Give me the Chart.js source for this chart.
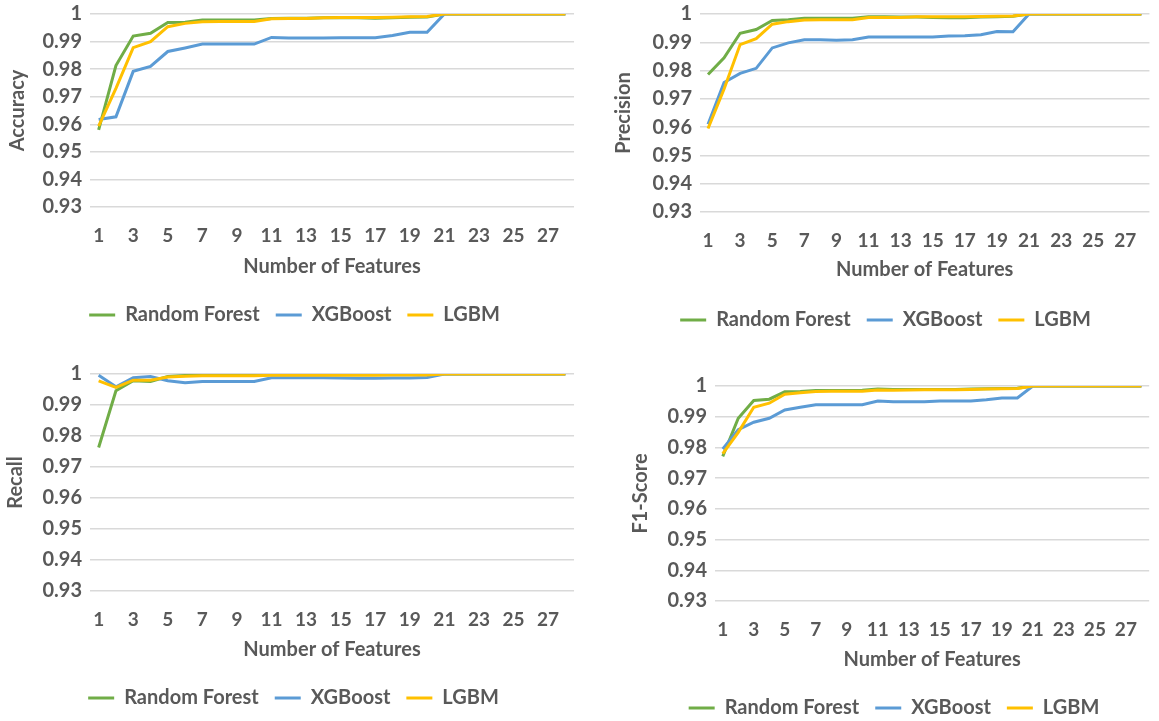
<!DOCTYPE html>
<html>
<head>
<meta charset="utf-8">
<script src="https://cdn.jsdelivr.net/npm/chart.js@4.4.0/dist/chart.umd.min.js"></script>
<style>
  body { margin: 0; background: #fff; width: 1159px; height: 721px; position: relative; overflow: hidden; }
  canvas { position: absolute; }
</style>
</head>
<body>
<canvas id="accChart"></canvas>
<canvas id="preChart"></canvas>
<canvas id="recChart"></canvas>
<canvas id="f1Chart"></canvas>
<script>
var features = [1, 2, 3, 4, 5, 6, 7, 8, 9, 10, 11, 12, 13, 14, 15, 16, 17, 18, 19, 20, 21, 22, 23, 24, 25, 26, 27, 28];
var seriesNames = ['Random Forest', 'XGBoost', 'LGBM'];
var seriesColors = ['#70AD47', '#5B9BD5', '#FFC000'];
var yMin = 0.93, yMax = 1, yStep = 0.01;

// Accuracy
var rfAcc   = [0.958, 0.9813, 0.992, 0.993, 0.9969, 0.997, 0.9978, 0.9978, 0.9978, 0.9978, 0.9984, 0.9985, 0.9985, 0.9986, 0.9987, 0.9986, 0.9985, 0.9986, 0.9988, 0.9989, 1, 1, 1, 1, 1, 1, 1, 1];
var xgbAcc  = [0.9617, 0.9627, 0.9792, 0.981, 0.9864, 0.9877, 0.9891, 0.9891, 0.9891, 0.9891, 0.9915, 0.9913, 0.9913, 0.9913, 0.9914, 0.9914, 0.9914, 0.9922, 0.9934, 0.9934, 1, 1, 1, 1, 1, 1, 1, 1];
var lgbmAcc = [0.9593, 0.973, 0.9878, 0.99, 0.9954, 0.9966, 0.9972, 0.9973, 0.9973, 0.9973, 0.9983, 0.9984, 0.9984, 0.9986, 0.9987, 0.9987, 0.9987, 0.9988, 0.999, 0.9991, 1, 1, 1, 1, 1, 1, 1, 1];

// Precision
var rfPre   = [0.9786, 0.9845, 0.9932, 0.9945, 0.9977, 0.998, 0.9985, 0.9985, 0.9985, 0.9985, 0.999, 0.999, 0.9989, 0.9989, 0.9988, 0.9987, 0.9987, 0.9989, 0.999, 0.9992, 1, 1, 1, 1, 1, 1, 1, 1];
var xgbPre  = [0.961, 0.9758, 0.979, 0.9808, 0.988, 0.9898, 0.9909, 0.9909, 0.9907, 0.9909, 0.9919, 0.9919, 0.9919, 0.9919, 0.9919, 0.9922, 0.9923, 0.9927, 0.9938, 0.9937, 1, 1, 1, 1, 1, 1, 1, 1];
var lgbmPre = [0.9595, 0.9735, 0.9892, 0.9913, 0.9964, 0.9973, 0.9979, 0.998, 0.998, 0.998, 0.9988, 0.9988, 0.9988, 0.999, 0.999, 0.999, 0.999, 0.9991, 0.9992, 0.9993, 1, 1, 1, 1, 1, 1, 1, 1];

// Recall
var rfRec   = [0.9763, 0.9946, 0.9978, 0.9976, 0.9992, 0.9995, 0.9996, 0.9996, 0.9996, 0.9996, 0.9998, 0.9998, 0.9998, 0.9998, 0.9998, 0.9998, 0.9998, 0.9998, 0.9998, 0.9998, 1, 1, 1, 1, 1, 1, 1, 1];
var xgbRec  = [0.9996, 0.9959, 0.9988, 0.9992, 0.9978, 0.9972, 0.9976, 0.9976, 0.9976, 0.9976, 0.9988, 0.9988, 0.9988, 0.9988, 0.9987, 0.9986, 0.9986, 0.9987, 0.9987, 0.9989, 1, 1, 1, 1, 1, 1, 1, 1];
var lgbmRec = [0.9978, 0.9957, 0.998, 0.998, 0.999, 0.9993, 0.9994, 0.9994, 0.9994, 0.9994, 0.9996, 0.9996, 0.9996, 0.9996, 0.9996, 0.9996, 0.9996, 0.9997, 0.9997, 0.9997, 1, 1, 1, 1, 1, 1, 1, 1];

// F1-Score
var rfF1    = [0.9771, 0.9895, 0.9953, 0.9957, 0.9981, 0.9982, 0.9985, 0.9985, 0.9985, 0.9986, 0.999, 0.9989, 0.9989, 0.9989, 0.9989, 0.9989, 0.999, 0.9991, 0.9992, 0.9993, 1, 1, 1, 1, 1, 1, 1, 1];
var xgbF1   = [0.9795, 0.9858, 0.9882, 0.9895, 0.9922, 0.9931, 0.9939, 0.9939, 0.9939, 0.9939, 0.9951, 0.9949, 0.9949, 0.9949, 0.9951, 0.9951, 0.9951, 0.9955, 0.9961, 0.9961, 1, 1, 1, 1, 1, 1, 1, 1];
var lgbmF1  = [0.978, 0.9849, 0.9931, 0.9944, 0.9973, 0.9978, 0.9982, 0.9983, 0.9983, 0.9983, 0.9987, 0.9986, 0.9987, 0.9988, 0.9988, 0.9988, 0.9989, 0.999, 0.9991, 0.9992, 1, 1, 1, 1, 1, 1, 1, 1];

var textColor = '#595959';
var gridColor = '#D9D9D9';
var fontSize = 20;
var xTickSize = 19;
var legendPad = 16;

// where each panel sits on the page
var panels = [
    { id: 'accChart', yTitle: 'Accuracy',  series: [rfAcc, xgbAcc, lgbmAcc], left: 6,   right: 583,  chartLeft: 90,  chartTop: 14,  chartBottom: 207, tickY: 236, xTitleY: 267, legendY: 315 },
    { id: 'preChart', yTitle: 'Precision', series: [rfPre, xgbPre, lgbmPre], left: 612, right: 1159, chartLeft: 700, chartTop: 14,  chartBottom: 212, tickY: 241, xTitleY: 270, legendY: 320 },
    { id: 'recChart', yTitle: 'Recall',    series: [rfRec, xgbRec, lgbmRec], left: 4,   right: 583,  chartLeft: 90,  chartTop: 374, chartBottom: 591, tickY: 620, xTitleY: 650, legendY: 698 },
    { id: 'f1Chart',  yTitle: 'F1-Score',  series: [rfF1, xgbF1, lgbmF1],    left: 629, right: 1159, chartLeft: 715, chartTop: 386, chartBottom: 601, tickY: 630, xTitleY: 660, legendY: 708 }
];

function makeChart(p) {
    var canvas = document.getElementById(p.id);
    var lineH = fontSize * 1.2;
    var canvasTop = p.chartTop - 26;   // room for the top tick label
    var legendTop = p.legendY - legendPad - fontSize / 2;
    var canvasBottom = legendTop + fontSize + legendPad + 10;
    var xAxisHeight = legendTop - p.chartBottom;
    var xTitlePad = legendTop - p.xTitleY - lineH / 2;
    var tickPad = p.tickY - p.chartBottom - xTickSize * 1.2 / 2;

    canvas.width = p.right - p.left;
    canvas.height = Math.round(canvasBottom - canvasTop);
    canvas.style.left = p.left + 'px';
    canvas.style.top = canvasTop + 'px';

    var font = { family: 'Lato', size: fontSize, weight: 'bold' };

    var datasets = seriesNames.map(function (name, i) {
        return {
            label: name,
            data: p.series[i],
            borderColor: seriesColors[i],
            backgroundColor: seriesColors[i],
            borderWidth: 3,
            pointRadius: 0,
            tension: 0,
            order: 2 - i   // LGBM drawn on top, like Excel
        };
    });

    return new Chart(canvas, {
        type: 'line',
        data: { labels: features, datasets: datasets },
        options: {
            responsive: false,
            animation: false,
            layout: { padding: { left: 0, right: 0, top: p.chartTop - canvasTop, bottom: 0 } },
            plugins: {
                tooltip: { enabled: false },
                legend: {
                    position: 'bottom',
                    labels: {
                        usePointStyle: true,
                        pointStyle: 'line',
                        pointStyleWidth: 26,
                        padding: legendPad,
                        color: textColor,
                        font: font,
                        sort: function (a, b) { return a.datasetIndex - b.datasetIndex; }
                    }
                }
            },
            scales: {
                x: {
                    offset: true,
                    grid: { display: false, drawTicks: false },
                    border: { display: false },
                    ticks: {
                        autoSkip: false,
                        maxRotation: 0,
                        padding: tickPad,
                        color: textColor,
                        font: { family: 'Lato', size: xTickSize, weight: 'bold' },
                        callback: function (val, idx) { return idx % 2 === 0 ? features[idx] : ''; }
                    },
                    title: { display: true, text: 'Number of Features', color: textColor, font: font, padding: { top: 0, bottom: xTitlePad } },
                    afterFit: function (scale) { scale.height = xAxisHeight; }
                },
                y: {
                    min: yMin,
                    max: yMax,
                    grid: { color: gridColor, lineWidth: 1.5, drawTicks: false },
                    border: { display: false },
                    ticks: {
                        stepSize: yStep,
                        padding: 8,
                        color: textColor,
                        font: font,
                        callback: function (v) { return Math.abs(v - 1) < 1e-9 ? '1' : v.toFixed(2); }
                    },
                    title: { display: true, text: p.yTitle, color: textColor, font: font, padding: { top: 0, bottom: 0 } },
                    afterFit: function (scale) { scale.width = p.chartLeft - p.left; }
                }
            }
        }
    });
}

panels.forEach(makeChart);
</script>
</body>
</html>
